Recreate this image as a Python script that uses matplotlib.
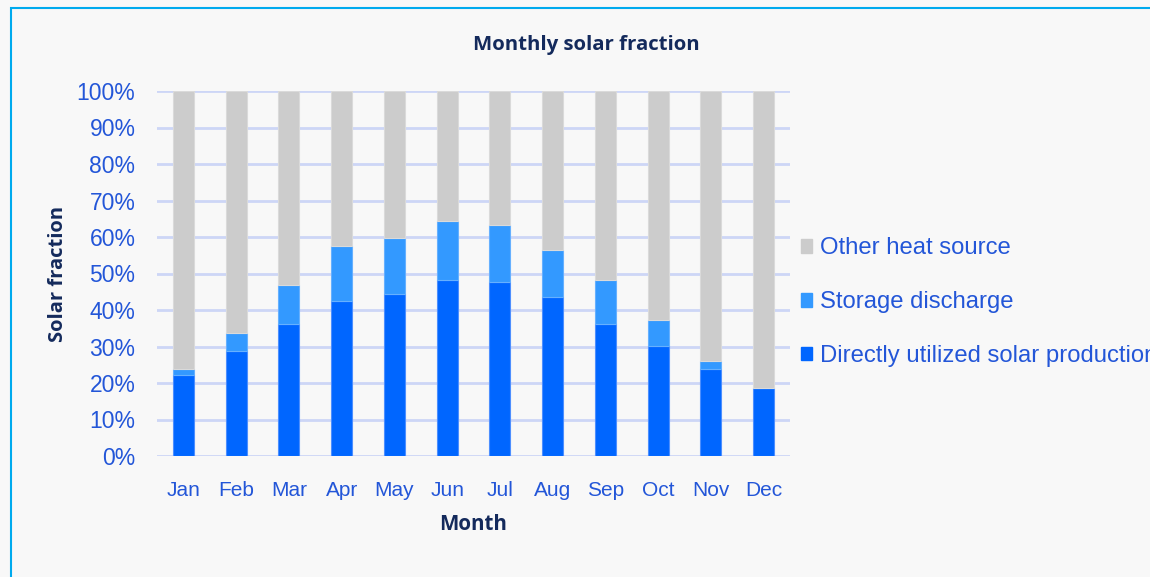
import numpy as np
import matplotlib
matplotlib.use("Agg")
import matplotlib.pyplot as plt
from matplotlib.patches import Rectangle, Patch
from matplotlib.ticker import PercentFormatter

months = ["Jan", "Feb", "Mar", "Apr", "May", "Jun",
          "Jul", "Aug", "Sep", "Oct", "Nov", "Dec"]
direct = [22.2, 28.8, 36.2, 42.5, 44.4, 48.2, 47.8, 43.6, 36.2, 30.2, 23.8, 18.5]
storage = [1.6, 4.9, 10.6, 15.0, 15.3, 16.2, 15.6, 12.9, 12.0, 7.1, 2.3, 0.0]
other = [100 - d - s for d, s in zip(direct, storage)]

c_direct = "#0066ff"
c_storage = "#3399ff"
c_other = "#cccccc"
blue_txt = "#2356d8"
navy = "#142a5c"
grid_c = "#cdd6f6"
bg = "#f8f8f8"

plt.rcParams['font.family'] = ['Liberation Sans', 'DejaVu Sans']
bold_font = ["Open Sans", "DejaVu Sans"]

fig = plt.figure(figsize=(11.5, 5.77), dpi=100, facecolor=bg)
ax = fig.add_axes([157 / 1150, 1 - 456 / 577, (790 - 157) / 1150, (456 - 91) / 577])
ax.set_facecolor(bg)

x = np.arange(len(months))
w = 0.4
ax.bar(x, direct, w, color=c_direct, edgecolor="#4d8fff", linewidth=0.8, zorder=3)
ax.bar(x, storage, w, bottom=direct, color=c_storage, edgecolor="#66b0ff", linewidth=0.8, zorder=3)
bottom2 = [d + s for d, s in zip(direct, storage)]
ax.bar(x, other, w, bottom=bottom2, color=c_other, edgecolor="#dadada", linewidth=0.8, zorder=3)

ax.set_xlim(-0.5, 11.5)
ax.set_ylim(0, 100)
ax.set_yticks(np.arange(0, 101, 10))
ax.yaxis.set_major_formatter(PercentFormatter(decimals=0))
ax.set_xticks(x)
ax.set_xticklabels(months)
ax.grid(axis="y", color=grid_c, linewidth=2, zorder=0)
for s in ax.spines.values():
    s.set_visible(False)
ax.tick_params(axis="y", length=0, labelsize=16.5, labelcolor=blue_txt, pad=15.5)
ax.tick_params(axis="x", length=0, labelsize=15, labelcolor=blue_txt, pad=18)

fig.text(586 / 1150, 1 - 45 / 577, "Monthly solar fraction", fontsize=14.7,
         fontweight="bold", color=navy, family=bold_font, ha="center", va="center")
ax.set_xlabel("Month", fontsize=14.8, fontweight="bold", color=navy,
              family=bold_font, labelpad=10)
ax.set_ylabel("Solar fraction", fontsize=14.5, fontweight="bold", color=navy,
              family=bold_font, labelpad=6)

handles = [Patch(color=c_other), Patch(color=c_storage), Patch(color=c_direct)]
labels = ["Other heat source", "Storage discharge", "Directly utilized solar production"]
fig.legend(handles, labels, loc="upper left", bbox_to_anchor=(779 / 1150, 1 - 216 / 577),
           frameon=False, fontsize=17.2, labelcolor=blue_txt, handlelength=0.5,
           handleheight=0.5, handletextpad=0.3, labelspacing=1.33)

fig.patches.append(Rectangle((11 / 1150, -0.1), 1.2, 1 - 8 / 577 + 0.1,
                             transform=fig.transFigure, fill=False,
                             edgecolor="#00aaee", linewidth=1.5))

fig.savefig("out.png", dpi=100, facecolor=bg)
